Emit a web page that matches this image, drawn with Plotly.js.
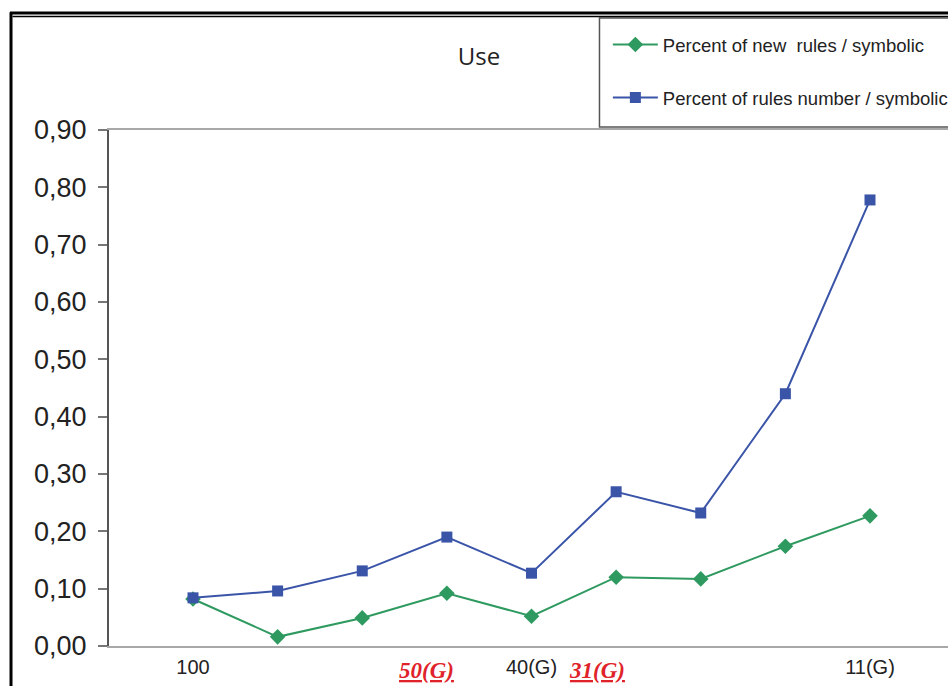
<!DOCTYPE html>
<html>
<head>
<meta charset="utf-8">
<script src="https://cdn.plot.ly/plotly-3.0.1.min.js"></script>
<style>
  html, body { margin: 0; padding: 0; background: #fff; }
  #chart { width: 948px; height: 686px; }
</style>
</head>
<body>
<div id="chart"></div>
<script>
// Nine runs, read left to right
const runIndex = [0, 1, 2, 3, 4, 5, 6, 7, 8];

// Percent of new rules / symbolic
const newRulesPct = [0.082, 0.016, 0.049, 0.092, 0.052, 0.120, 0.117, 0.174, 0.227];
// Percent of rules number / symbolic
const rulesNumberPct = [0.084, 0.096, 0.131, 0.190, 0.127, 0.269, 0.232, 0.440, 0.778];

// Black category labels on the x axis
const tickPositions = [0, 4, 8];
const tickLabels = ['100', '40(G)', '11(G)'];

// Highlighted red labels between categories
const redLabelPositions = [2.765, 4.774];
const redLabels = ['50(G)', '31(G)'];

const yTicks = [0, 0.1, 0.2, 0.3, 0.4, 0.5, 0.6, 0.7, 0.8, 0.9];

const traces = [
  {
    x: runIndex, y: newRulesPct,
    name: 'Percent of new  rules / symbolic',
    legendgroup: 'a',
    mode: 'lines+markers', type: 'scatter',
    line: { color: '#2f9a60', width: 2 },
    marker: { symbol: 'diamond', size: 12, color: '#2f9a60' }
  },
  {
    x: runIndex, y: rulesNumberPct,
    name: 'Percent of rules number / symbolic',
    legendgroup: 'b',
    mode: 'lines+markers', type: 'scatter',
    line: { color: '#3a54a8', width: 2 },
    marker: { symbol: 'square', size: 11, color: '#3a54a8' }
  }
];

const annotations = redLabels.map((t, i) => ({
  x: redLabelPositions[i], xref: 'x',
  y: -0.048, yref: 'paper',
  text: '<u><b><i>' + t + '</i></b></u>',
  showarrow: false,
  xanchor: 'center', yanchor: 'middle',
  font: { family: 'Liberation Serif, serif', size: 23, color: '#e0232a' }
}));

const layout = {
  width: 948, height: 686,
  margin: { l: 109, r: 0, t: 130, b: 40, autoexpand: false },
  paper_bgcolor: '#ffffff', plot_bgcolor: '#ffffff',
  font: { family: 'Liberation Sans, Arial, sans-serif', color: '#222' },
  title: {
    text: 'Use',
    font: { family: 'Open Sans, sans-serif', size: 24, color: '#222' },
    xref: 'paper', x: 0.441, xanchor: 'center',
    yref: 'container', y: 0.917, yanchor: 'middle'
  },
  xaxis: {
    range: [-0.9926, 8.9217],
    tickvals: tickPositions, ticktext: tickLabels,
    ticks: '', showgrid: false, zeroline: false,
    showline: true, mirror: true, linecolor: '#a8a8a8', linewidth: 2,
    tickfont: { size: 20, color: '#222' },
    ticklabelstandoff: 2
  },
  yaxis: {
    range: [0, 0.9],
    tickvals: yTicks, tickformat: '.2f',
    ticks: 'outside', ticklen: 9, tickwidth: 2, tickcolor: '#777',
    showgrid: false, zeroline: false,
    showline: true, linecolor: '#555', linewidth: 2,
    tickfont: { size: 27, color: '#222' },
    ticklabelstandoff: 6
  },
  separators: ',.',
  showlegend: true,
  legend: {
    x: 0.5946, xanchor: 'left',
    y: 1.2016, yanchor: 'top',
    bgcolor: 'rgba(0,0,0,0)', borderwidth: 0,
    font: { size: 18.5, color: '#222' },
    traceorder: 'grouped', tracegroupgap: 26,
    itemwidth: 45
  },
  annotations: annotations,
  shapes: [
    // legend frame
    { type: 'rect', xref: 'paper', yref: 'paper', x0: 0.5846, x1: 1.05, y0: 1.0058, y1: 1.2171,
      fillcolor: '#ffffff', line: { color: '#555', width: 1.5 }, layer: 'below' },
    // outer frame: heavy top rule with a thin rule beneath, and left rule
    { type: 'line', xref: 'paper', yref: 'paper', x0: -0.1180, x1: 1.05, y0: 1.2267, y1: 1.2267,
      line: { color: '#000', width: 3 } },
    { type: 'line', xref: 'paper', yref: 'paper', x0: -0.1150, x1: 1.05, y0: 1.2200, y1: 1.2200,
      line: { color: '#000', width: 1.5 } },
    { type: 'line', xref: 'paper', yref: 'paper', x0: -0.1168, x1: -0.1168, y0: 1.2280, y1: -0.1,
      line: { color: '#000', width: 3 } }
  ]
};

Plotly.newPlot('chart', traces, layout, { displayModeBar: false, staticPlot: true });
</script>
</body>
</html>
